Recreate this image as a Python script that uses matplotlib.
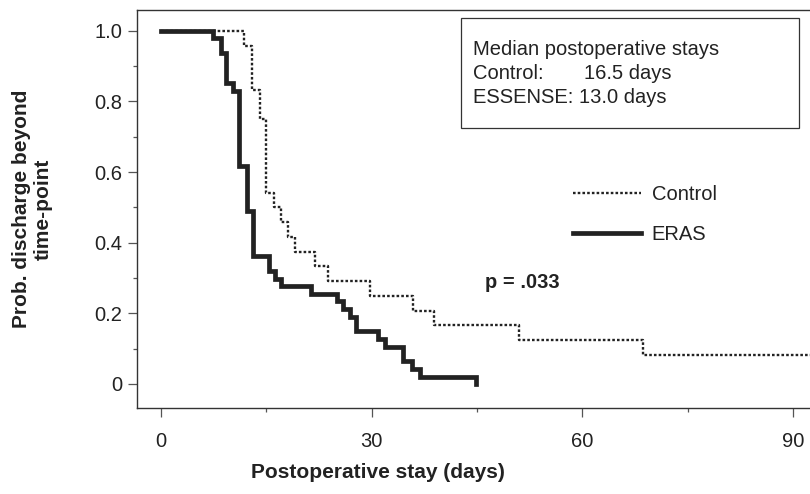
import matplotlib
matplotlib.use("Agg")
import matplotlib.pyplot as plt
from matplotlib.patches import Rectangle
from matplotlib.ticker import MultipleLocator

plt.rcParams["font.family"] = ["Liberation Sans", "DejaVu Sans"]

# Kaplan-Meier style step data
eras_days = [0, 7.35, 8.5, 9.25, 10.3, 11.1, 12.2, 13.1, 15.3, 16.2, 17.0, 21.4,
             25.0, 25.9, 26.9, 27.7, 30.9, 31.9, 34.5, 35.7, 36.8, 44.9]
eras_prob = [1.0, 0.979, 0.936, 0.851, 0.830, 0.617, 0.489, 0.362, 0.319, 0.298, 0.277, 0.255,
             0.234, 0.213, 0.191, 0.149, 0.128, 0.106, 0.064, 0.043, 0.021, 0.0]

control_days = [0, 11.85, 13.0, 14.1, 15.0, 16.0, 17.1, 18.1, 19.1, 21.9, 23.8, 29.7,
                35.8, 38.8, 51.0, 68.6, 95]
control_prob = [1.0, 0.958, 0.833, 0.750, 0.542, 0.500, 0.458, 0.417, 0.375, 0.333, 0.292, 0.250,
                0.208, 0.167, 0.125, 0.083, 0.083]

xticks = [0, 30, 60, 90]
yticks = [0, 0.2, 0.4, 0.6, 0.8, 1.0]
ytick_labels = ["0", "0.2", "0.4", "0.6", "0.8", "1.0"]

ink = "#222222"
fs = 14.5

fig = plt.figure(figsize=(8.1, 4.94), dpi=100)
ax = fig.add_axes([0.1695, 0.1741, 0.8305, 0.8057])

ax.step(control_days, control_prob, where="post", color=ink, lw=1.7,
        linestyle=(0, (1.1, 0.9)), label="Control")
ax.step(eras_days, eras_prob, where="post", color=ink, lw=3.4,
        solid_joinstyle="miter", label="ERAS")

ax.set_xlim(-3.4, 92.4)
ax.set_ylim(-0.068, 1.059)
ax.set_xticks(xticks)
ax.set_yticks(yticks)
ax.set_yticklabels(ytick_labels)
ax.xaxis.set_minor_locator(MultipleLocator(15))
ax.yaxis.set_minor_locator(MultipleLocator(0.1))
ax.tick_params(which="major", length=6.5, width=0.9, color="#555555",
               labelsize=fs, labelcolor=ink, pad=4.5)
ax.tick_params(which="minor", length=3, width=0.9, color="#555555")
ax.tick_params(axis="x", which="major", pad=11)
ax.spines["right"].set_visible(False)
for s in ["left", "bottom", "top"]:
    ax.spines[s].set_color("#333333")
    ax.spines[s].set_linewidth(1.0)

ax.set_xlabel("Postoperative stay (days)", fontsize=15, fontweight="bold", color=ink)
ax.xaxis.set_label_coords(0.358, -0.137)
ax.set_ylabel("Prob. discharge beyond\ntime-point", fontsize=15, fontweight="bold",
              color=ink, linespacing=1.2)
ax.yaxis.set_label_coords(-0.125, 0.5)

# median box
ax.add_patch(Rectangle((42.7, 0.726), 48.2, 0.310, fill=False,
                       edgecolor="#333333", lw=0.9))
ax.text(44.4, 0.946, "Median postoperative stays", fontsize=fs, color=ink, va="center")
ax.text(44.4, 0.879, "Control:", fontsize=fs, color=ink, va="center")
ax.text(60.2, 0.879, "16.5 days", fontsize=fs, color=ink, va="center")
ax.text(44.4, 0.810, "ESSENSE: 13.0 days", fontsize=fs, color=ink, va="center")

ax.text(46.1, 0.286, "p = .033", fontsize=fs, fontweight="bold", color=ink, va="center")

ax.legend(loc="upper left", bbox_to_anchor=(573 / 810, 1 - 185 / 494),
          bbox_transform=fig.transFigure,
          frameon=False, fontsize=fs, handlelength=3.4, handletextpad=0.5,
          labelspacing=1.05, borderpad=0, borderaxespad=0, labelcolor=ink)

fig.savefig("out.png", dpi=100)
